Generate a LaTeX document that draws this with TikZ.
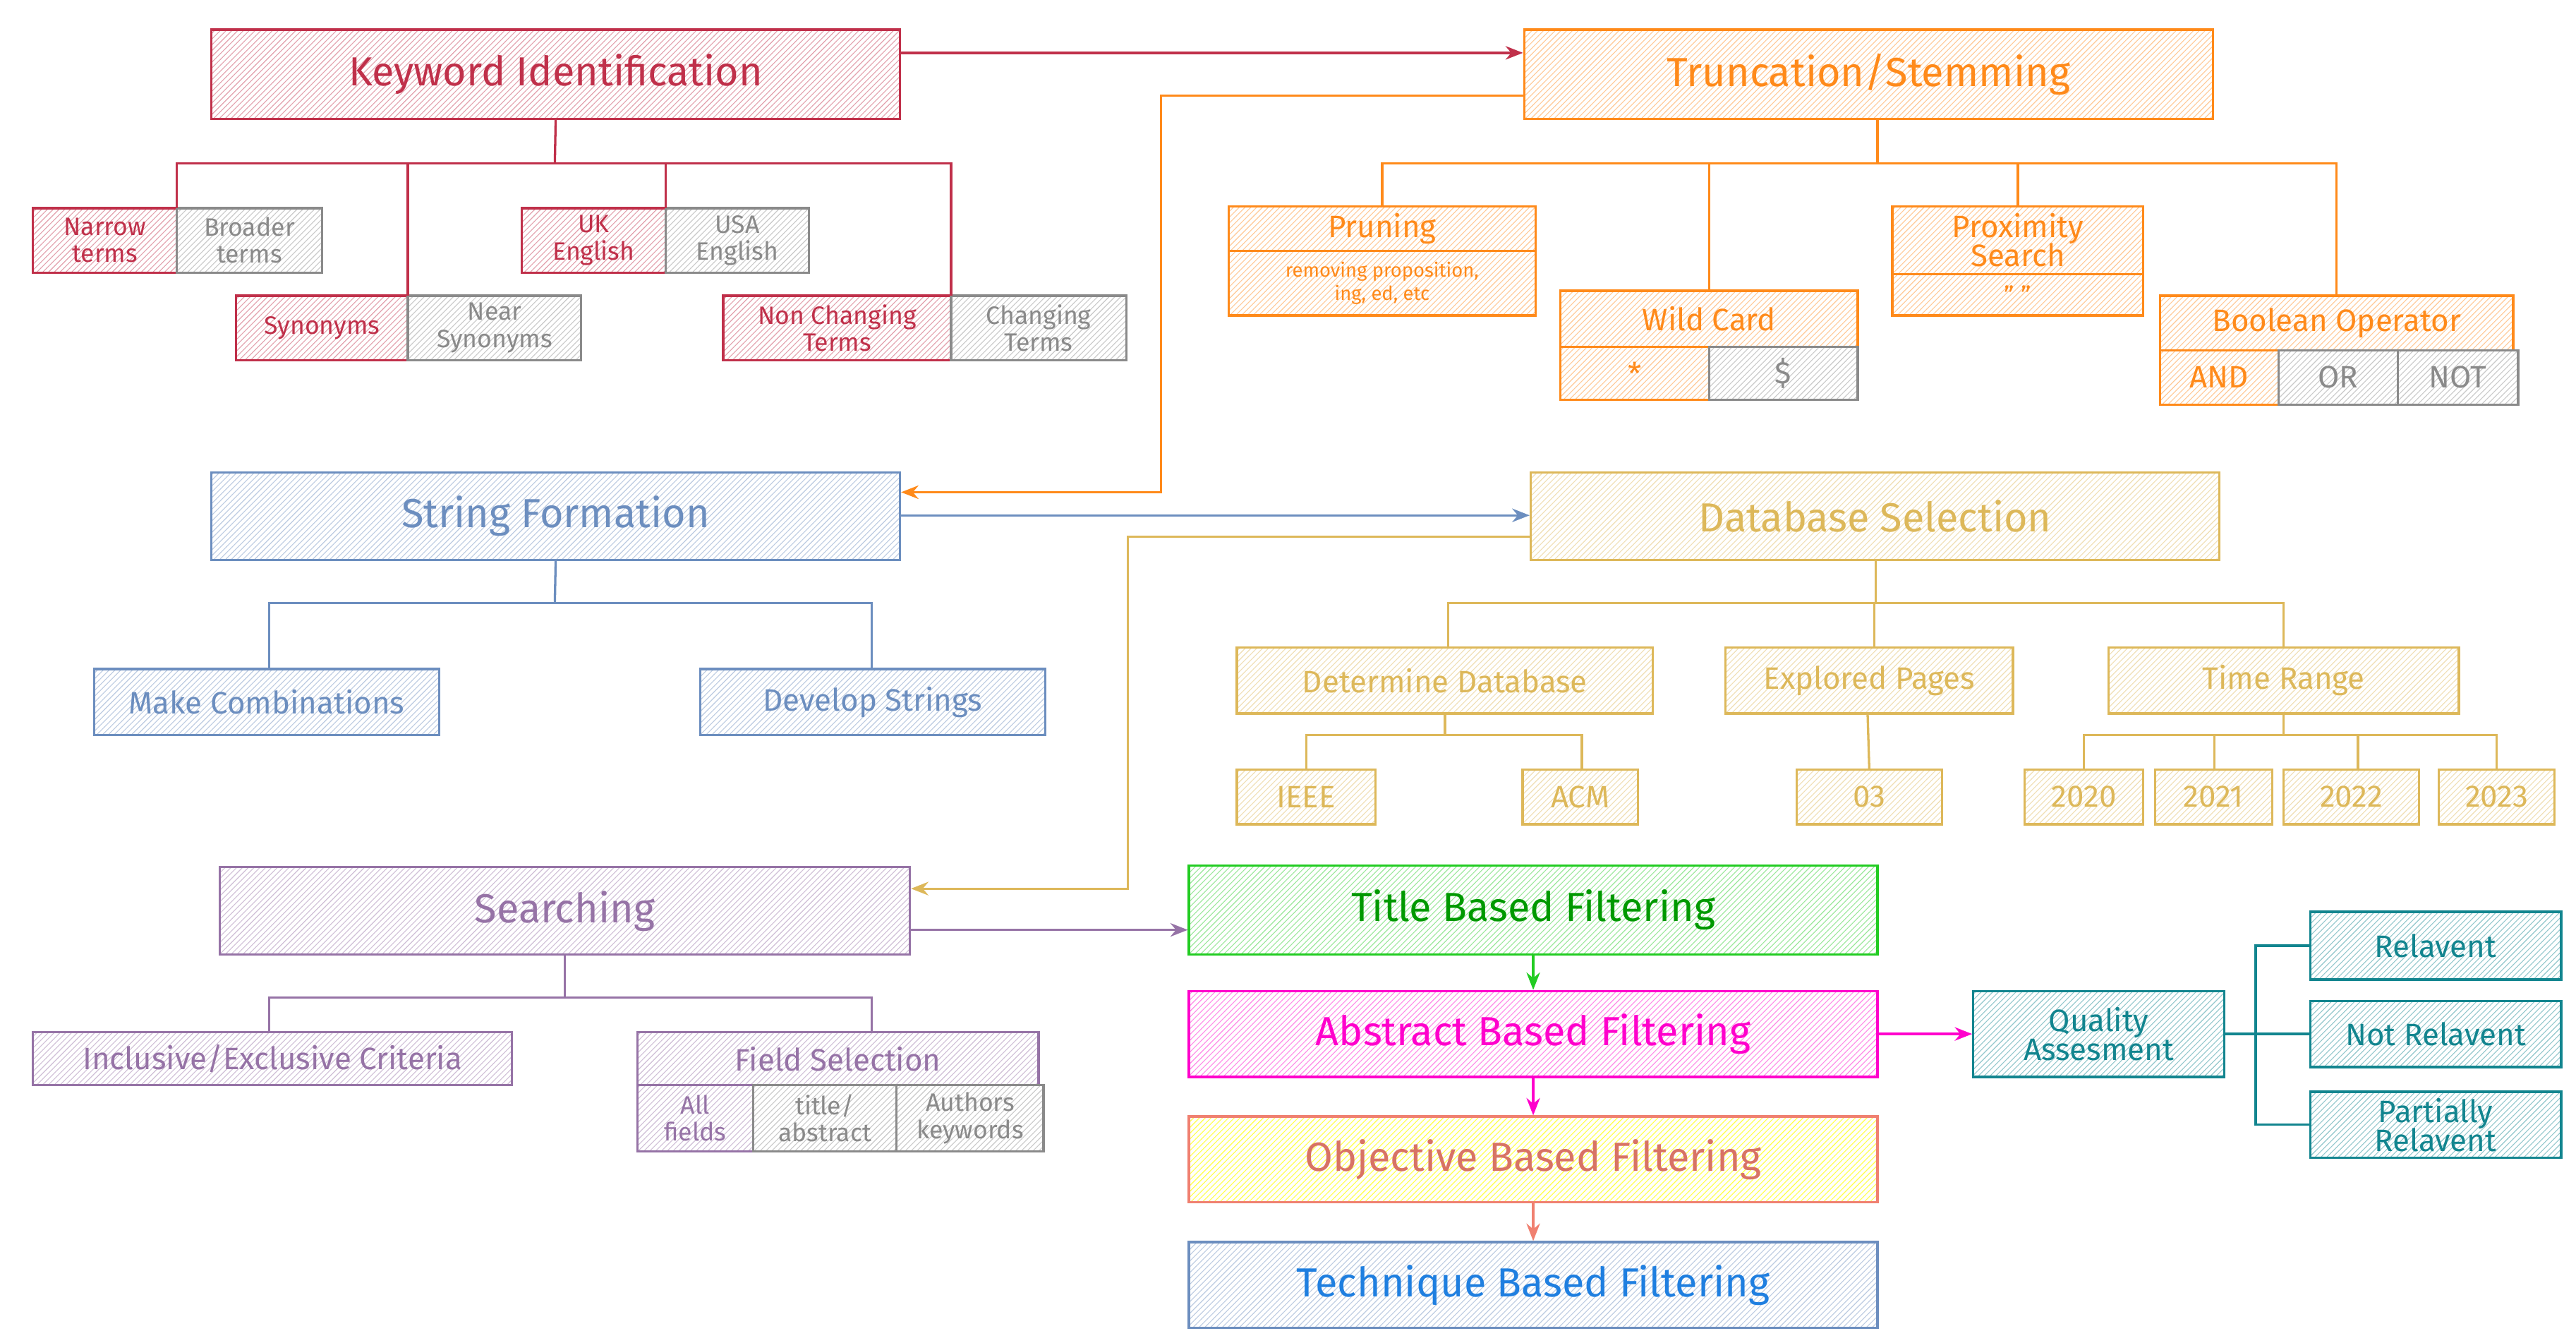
\documentclass[tikz,border=0pt]{standalone}
\usepackage{fontspec}
\setmainfont{Fira Sans}
\usetikzlibrary{patterns,arrows.meta}
\definecolor{cR}{HTML}{C0304A}
\definecolor{cO}{HTML}{FF8A1A}
\definecolor{cB}{HTML}{6C8EBF}
\definecolor{cY}{HTML}{DDB85A}
\definecolor{cP}{HTML}{9673A6}
\definecolor{cG}{HTML}{22CC22}
\definecolor{cM}{HTML}{FF00CC}
\definecolor{cS}{HTML}{F08070}
\definecolor{cT}{HTML}{12858F}
\definecolor{cK}{HTML}{1F7FE0}
\definecolor{cGr}{HTML}{8A8A8A}
\newcommand\bx[7]{\node[#2, minimum width={(#5-#3)*0.03cm}, minimum height={(#6-#4)*0.03cm}] (#1) at ({(#3+#5)/2},{(#4+#6)/2}) {#7};}
\tikzset{
  bx/.style={draw=#1, line width=1.2pt, pattern=north east lines, pattern color=#1!45, text=#1, inner sep=0pt, align=center, font=\fontsize{13}{14}\selectfont},
  big/.style={font=\fontsize{21}{24}\selectfont},
  mid/.style={font=\fontsize{16}{18}\selectfont},
  ln/.style={draw=#1, line width=1.2pt},
  ar/.style={draw=#1, line width=1.2pt, -{Stealth[length=9pt,width=7pt]}},
}
\begin{document}
\begin{tikzpicture}[x=0.03cm,y=-0.03cm]
\useasboundingbox[fill=white] (0,0) rectangle (1560,812.7);
% main boxes
\bx{ki}{bx=cR,big}{128}{18}{545}{72}{Keyword Identification}
\bx{ts}{bx=cO,big}{923}{18}{1340}{72}{Truncation/Stemming}
\bx{sf}{bx=cB,big}{128}{286}{545}{339}{String Formation}
\bx{ds}{bx=cY,big}{927}{286}{1344}{339}{Database Selection}
\bx{se}{bx=cP,big}{133}{525}{551}{578}{Searching}
\bx{tb}{bx=cG,big,text=green!60!black}{720}{524}{1137}{578}{Title Based Filtering}
\bx{ab}{bx=cM,big}{720}{600}{1137}{652}{Abstract Based Filtering}
\bx{ob}{bx=cS,big,pattern color=yellow!70,text=cS!90!black}{720}{676}{1137}{728}{Objective Based Filtering}
\bx{te}{bx=cB,big,text=cK}{720}{752}{1137}{804}{Technique Based Filtering}
\bx{qa}{bx=cT,mid}{1195}{600}{1347}{652}{Quality\\[-3pt]Assesment}
\bx{r1}{bx=cT,mid}{1399}{552}{1551}{593}{Relavent}
\bx{r2}{bx=cT,mid}{1399}{606}{1551}{646}{Not Relavent}
\bx{r3}{bx=cT,mid}{1399}{661}{1551}{701}{Partially\\[-3pt]Relavent}
% keyword subtree
\bx{nt}{bx=cR}{20}{126}{107}{165}{Narrow\\terms}
\bx{bt}{bx=cGr}{107}{126}{195}{165}{Broader\\terms}
\bx{uk}{bx=cR}{316}{126}{403}{165}{UK\\English}
\bx{us}{bx=cGr}{403}{126}{490}{165}{USA\\English}
\bx{sy}{bx=cR}{143}{179}{247}{218}{Synonyms}
\bx{ns}{bx=cGr}{247}{179}{352}{218}{Near\\Synonyms}
\bx{nc}{bx=cR}{438}{179}{576}{218}{Non Changing\\Terms}
\bx{ch}{bx=cGr}{576}{179}{682}{218}{Changing\\Terms}
\coordinate (k0) at (336,99);
\draw[ln=cR] (ki.south) -- (k0);
\draw[ln=cR] (107,126) |- (k0) -| (576,179);
\draw[ln=cR] (247,99) -- (247,179);
\draw[ln=cR] (403,99) -- (403,126);
% truncation subtree
\bx{pr}{bx=cO,mid}{744}{125}{930}{152}{Pruning}
\bx{pr2}{bx=cO,font=\fontsize{10}{12}\selectfont}{744}{152}{930}{191}{removing proposition,\\ing, ed, etc}
\bx{wc}{bx=cO,mid}{945}{176}{1125}{210}{Wild Card}
\bx{wc1}{bx=cO,mid}{945}{210}{1035}{242}{*}
\bx{wc2}{bx=cGr,mid}{1035}{210}{1125}{242}{\$}
\bx{px}{bx=cO,mid}{1146}{125}{1298}{166}{Proximity\\[-3pt]Search}
\bx{px2}{bx=cO}{1146}{166}{1298}{191}{" "}
\bx{bo}{bx=cO,mid}{1308}{179}{1522}{212}{Boolean Operator}
\bx{b1}{bx=cO,mid}{1308}{212}{1380}{245}{AND}
\bx{b2}{bx=cGr,mid}{1380}{212}{1452}{245}{OR}
\bx{b3}{bx=cGr,mid}{1452}{212}{1525}{245}{NOT}
\coordinate (t0) at (1137,99);
\draw[ln=cO] (t0 |- ts.south) -- (t0);
\draw[ln=cO] (pr.north) |- (t0) -| (bo.north);
\draw[ln=cO] (wc.north) -- (wc.north |- t0);
\draw[ln=cO] (px.north) -- (px.north |- t0);
% string formation subtree
\bx{mc}{bx=cB,mid}{57}{405}{266}{445}{Make Combinations}
\bx{dv}{bx=cB,mid}{424}{405}{633}{445}{Develop Strings}
\coordinate (s0) at (336,365);
\draw[ln=cB] (sf.south) -- (s0);
\draw[ln=cB] (163,405) |- (s0) -| (528,405);
% database subtree
\bx{dd}{bx=cY,mid}{749}{392}{1001}{432}{Determine Database}
\bx{ep}{bx=cY,mid}{1045}{392}{1219}{432}{Explored Pages}
\bx{tr}{bx=cY,mid}{1277}{392}{1489}{432}{Time Range}
\bx{ie}{bx=cY,mid}{749}{466}{833}{499}{IEEE}
\bx{ac}{bx=cY,mid}{922}{466}{992}{499}{ACM}
\bx{o3}{bx=cY,mid}{1088}{466}{1176}{499}{03}
\bx{y0}{bx=cY,mid}{1226}{466}{1298}{499}{2020}
\bx{y1}{bx=cY,mid}{1305}{466}{1376}{499}{2021}
\bx{y2}{bx=cY,mid}{1383}{466}{1465}{499}{2022}
\bx{y3}{bx=cY,mid}{1477}{466}{1547}{499}{2023}
\coordinate (d0) at (1136,365);
\draw[ln=cY] (d0 |- ds.south) -- (d0);
\draw[ln=cY] (877,392) |- (d0) -| (1383,392);
\draw[ln=cY] (1135,365) -- (1135,392);
\coordinate (d1) at (875,445);
\draw[ln=cY] (d1 |- dd.south) -- (d1);
\draw[ln=cY] (791,466) |- (d1) -| (958,466);
\draw[ln=cY] (1131,432) -- (o3.north);
\coordinate (d2) at (1383,445);
\draw[ln=cY] (tr.south) -- (d2);
\draw[ln=cY] (1262,466) |- (d2) -| (1512,466);
\draw[ln=cY] (1341,445) -- (1341,466);
\draw[ln=cY] (1428,445) -- (1428,466);
% searching subtree
\bx{ie2}{bx=cP,mid}{20}{625}{310}{657}{Inclusive/Exclusive Criteria}
\bx{fs}{bx=cP,mid}{386}{625}{629}{657}{Field Selection}
\bx{f1}{bx=cP}{386}{657}{456}{697}{All\\fields}
\bx{f2}{bx=cGr}{456}{657}{543}{697}{title/\\abstract}
\bx{f3}{bx=cGr}{543}{657}{632}{697}{Authors\\keywords}
\coordinate (q0) at (342,604);
\draw[ln=cP] (se.south) -- (q0);
\draw[ln=cP] (163,625) |- (q0) -| (528,625);
% connectors
\draw[ar=cR] (ki.east |- 0,32) -- (ts.west |- 0,32);
\draw[ar=cO] (ts.west |- 0,58) -| (703,298) -- (sf.east |- 0,298);
\draw[ar=cB] (sf.east |- 0,312) -- (ds.west |- 0,312);
\draw[ar=cY] (ds.west |- 0,325) -| (683,538) -- (se.east |- 0,538);
\draw[ar=cP] (se.east |- 0,563) -- (tb.west |- 0,563);
\draw[ar=cG] (tb.south) -- (ab.north);
\draw[ar=cM] (ab.south) -- (ob.north);
\draw[ar=cS] (ob.south) -- (te.north);
\draw[ar=cM] (ab.east) -- (qa.west);
\coordinate (qb) at (1366,626);
\draw[ln=cT] (qa.east) -- (qb);
\draw[ln=cT] (r1.west) -| (qb) |- (r3.west);
\draw[ln=cT] (qb) -- (r2.west);
\end{tikzpicture}
\end{document}
